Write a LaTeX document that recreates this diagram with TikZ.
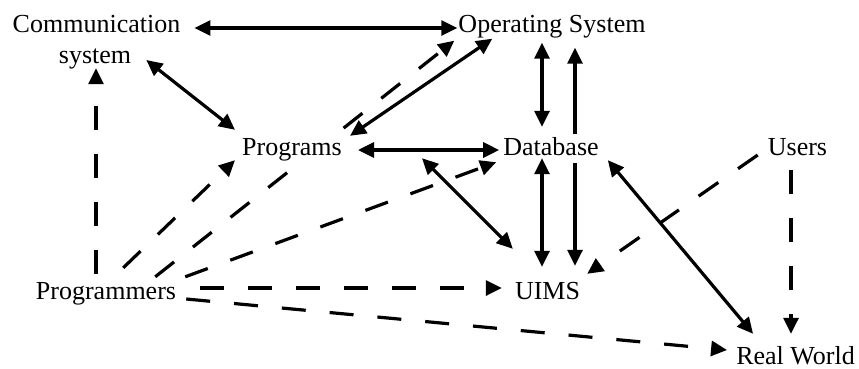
\documentclass[tikz,border=0pt]{standalone}
\usepackage{fontspec}
\setmainfont{Liberation Serif}
\usetikzlibrary{arrows.meta,calc}
\begin{document}
\begin{tikzpicture}[x=1pt,y=-1pt,
  >={Triangle[length=16pt,width=15pt]},
  lbl/.style={inner sep=0pt, text height=18pt, text depth=5pt, anchor=base,
    font=\fontsize{26}{30}\selectfont},
  masked/.style={lbl, fill=white, inner ysep=3pt},
  link/.style={line width=3.2pt},
  both/.style={link,<->},
  dashone/.style={link,->,dash pattern=on 24pt off 24pt}]
\useasboundingbox (0,0) rectangle (859,368);

% labels
\node[lbl] (comm1) at (96.5,32.5) {Communication};
\node[lbl] (comm2) at (95,63) {system};
\node[lbl] (os) at (552,32.5) {Operating System};
\node[lbl] (users) at (797.5,155) {Users};
\node[lbl] (progr) at (106,299) {Programmers};
\node[lbl] (uims) at (547.5,299) {UIMS};
\node[lbl] (rw) at (795.5,364) {Real World};

% links that run behind the Programs and Database labels
\draw[dashone] ([shift={(-21,-4)}]progr.north east) -- ([shift={(-4,3)}]os.south west);
\draw[both] ($(os.south)+(23,10)$) coordinate (osR) -- ($(osR |- uims.north)+(0,-15)$);
\node[masked] (prog) at (292,155) {Programs};
\node[masked] (db) at (551,155) {Database};

% solid two-way links
\draw[both] ([shift={(14,2)}]comm1.east) -- ([shift={(-1,2)}]os.west);
\draw[both] ([shift={(15,3.5)}]comm2.east) -- ([shift={(-7,-4)}]prog.north west);
\draw[both] ([shift={(8,2)}]prog.north east) -- ([shift={(34,1)}]os.south west);
\draw[both] ([shift={(16,1.5)}]prog.east) -- ([shift={(-4,1.5)}]db.west);
\draw[both] ([shift={(80,-5)}]prog.south east) -- ([shift={(-2,-32)}]uims.north west);
\draw[both] ($(os.south)+(-10,5)$) coordinate (osL) -- ($(osL |- db.north)+(0,-7)$);
\draw[both] ($(db.south)+(-9,-5)$) coordinate (dbL) -- ($(dbL |- uims.north)+(0,-14)$);
\draw[both] ([shift={(9,-3)}]db.south east) -- ([shift={(17,-12)}]rw.north west);

% dashed one-way links
\draw[dashone] ($(progr.north)+(-10,-7)$) coordinate (pgT) -- (pgT |- comm2.south);
\draw[dashone] ([shift={(-53,-13)}]progr.north east) -- ([shift={(-7,-3)}]prog.south west);
\draw[dashone] ([shift={(9,-4)}]progr.north east) -- ([shift={(-7,-1)}]db.south west);
\draw[dashone] ([shift={(24,-4.5)}]progr.east) -- ([shift={(-13,-4.5)}]uims.west);
\draw[dashone] ([shift={(10,6.5)}]progr.east) -- ([shift={(-9,-7.5)}]rw.west);
\draw[dashone] ([shift={(-10,6.5)}]users.west) -- ([shift={(7,-7)}]uims.north east);
\draw[dashone] ($(users.south)+(-6.5,10)$) coordinate (usB) -- ($(usB |- rw.north)+(0,-12)$);
\end{tikzpicture}
\end{document}
